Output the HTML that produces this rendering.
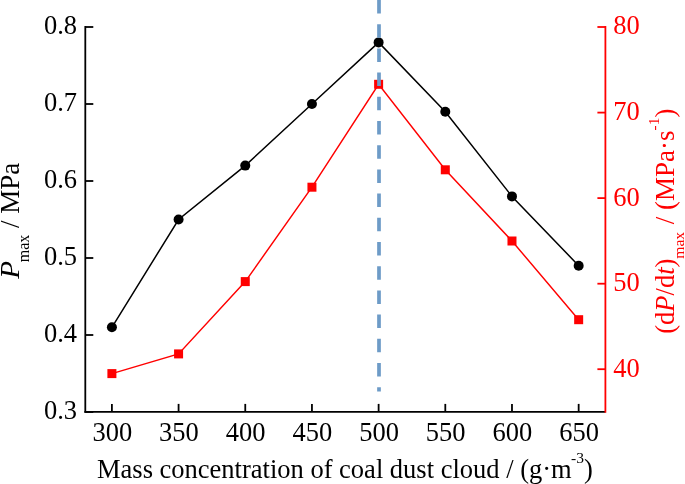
<!DOCTYPE html><html><head><meta charset="utf-8"><style>html,body{margin:0;padding:0;background:#fff;width:685px;height:484px;overflow:hidden}svg{display:block;will-change:transform}svg text{font-family:"Liberation Serif",serif}</style></head><body><svg width="685" height="484" viewBox="0 0 685 484"><g stroke="#000" stroke-width="1.80" fill="none"><line x1="85.30" y1="26.10" x2="85.30" y2="412.80"/><line x1="84.40" y1="411.90" x2="605.40" y2="411.90"/><line x1="85.30" y1="412.00" x2="93.30" y2="412.00"/><line x1="85.30" y1="335.00" x2="93.30" y2="335.00"/><line x1="85.30" y1="258.00" x2="93.30" y2="258.00"/><line x1="85.30" y1="181.00" x2="93.30" y2="181.00"/><line x1="85.30" y1="104.00" x2="93.30" y2="104.00"/><line x1="85.30" y1="27.00" x2="93.30" y2="27.00"/><line x1="111.90" y1="411.90" x2="111.90" y2="403.90"/><line x1="178.58" y1="411.90" x2="178.58" y2="403.90"/><line x1="245.26" y1="411.90" x2="245.26" y2="403.90"/><line x1="311.94" y1="411.90" x2="311.94" y2="403.90"/><line x1="378.62" y1="411.90" x2="378.62" y2="403.90"/><line x1="445.30" y1="411.90" x2="445.30" y2="403.90"/><line x1="511.98" y1="411.90" x2="511.98" y2="403.90"/><line x1="578.66" y1="411.90" x2="578.66" y2="403.90"/></g><g stroke="#f00" stroke-width="1.80" fill="none"><line x1="605.40" y1="26.10" x2="605.40" y2="412.80"/><line x1="597.40" y1="369.20" x2="605.40" y2="369.20"/><line x1="597.40" y1="283.70" x2="605.40" y2="283.70"/><line x1="597.40" y1="198.10" x2="605.40" y2="198.10"/><line x1="597.40" y1="112.60" x2="605.40" y2="112.60"/><line x1="597.40" y1="27.00" x2="605.40" y2="27.00"/></g><text transform="translate(77.00,419.30) scale(1,1.070)" font-size="26.50" text-anchor="end" fill="#000">0.3</text><text transform="translate(77.00,342.30) scale(1,1.070)" font-size="26.50" text-anchor="end" fill="#000">0.4</text><text transform="translate(77.00,265.30) scale(1,1.070)" font-size="26.50" text-anchor="end" fill="#000">0.5</text><text transform="translate(77.00,188.30) scale(1,1.070)" font-size="26.50" text-anchor="end" fill="#000">0.6</text><text transform="translate(77.00,111.30) scale(1,1.070)" font-size="26.50" text-anchor="end" fill="#000">0.7</text><text transform="translate(77.00,34.30) scale(1,1.070)" font-size="26.50" text-anchor="end" fill="#000">0.8</text><text transform="translate(112.30,440.60) scale(1,1.070)" font-size="26.50" text-anchor="middle" fill="#000">300</text><text transform="translate(178.98,440.60) scale(1,1.070)" font-size="26.50" text-anchor="middle" fill="#000">350</text><text transform="translate(245.66,440.60) scale(1,1.070)" font-size="26.50" text-anchor="middle" fill="#000">400</text><text transform="translate(312.34,440.60) scale(1,1.070)" font-size="26.50" text-anchor="middle" fill="#000">450</text><text transform="translate(379.02,440.60) scale(1,1.070)" font-size="26.50" text-anchor="middle" fill="#000">500</text><text transform="translate(445.70,440.60) scale(1,1.070)" font-size="26.50" text-anchor="middle" fill="#000">550</text><text transform="translate(512.38,440.60) scale(1,1.070)" font-size="26.50" text-anchor="middle" fill="#000">600</text><text transform="translate(579.06,440.60) scale(1,1.070)" font-size="26.50" text-anchor="middle" fill="#000">650</text><text transform="translate(613.20,376.60) scale(1,1.070)" font-size="26.50" text-anchor="start" fill="#f00">40</text><text transform="translate(613.20,291.10) scale(1,1.070)" font-size="26.50" text-anchor="start" fill="#f00">50</text><text transform="translate(613.20,205.50) scale(1,1.070)" font-size="26.50" text-anchor="start" fill="#f00">60</text><text transform="translate(613.20,120.00) scale(1,1.070)" font-size="26.50" text-anchor="start" fill="#f00">70</text><text transform="translate(613.20,34.40) scale(1,1.070)" font-size="26.50" text-anchor="start" fill="#f00">80</text><polyline points="111.90,327.30 178.58,219.50 245.26,165.60 311.94,104.00 378.62,42.40 445.30,111.70 511.98,196.40 578.66,265.70" fill="none" stroke="#000" stroke-width="1.5"/><polyline points="111.90,373.60 178.58,353.90 245.26,281.60 311.94,187.20 378.62,84.30 445.30,169.80 511.98,241.00 578.66,319.70" fill="none" stroke="#f00" stroke-width="1.45"/><circle cx="111.90" cy="327.30" r="5" fill="#000"/><circle cx="178.58" cy="219.50" r="5" fill="#000"/><circle cx="245.26" cy="165.60" r="5" fill="#000"/><circle cx="311.94" cy="104.00" r="5" fill="#000"/><circle cx="378.62" cy="42.40" r="5" fill="#000"/><circle cx="445.30" cy="111.70" r="5" fill="#000"/><circle cx="511.98" cy="196.40" r="5" fill="#000"/><circle cx="578.66" cy="265.70" r="5" fill="#000"/><rect x="107.40" y="369.10" width="9" height="9" fill="#f00"/><rect x="174.08" y="349.40" width="9" height="9" fill="#f00"/><rect x="240.76" y="277.10" width="9" height="9" fill="#f00"/><rect x="307.44" y="182.70" width="9" height="9" fill="#f00"/><rect x="374.12" y="79.80" width="9" height="9" fill="#f00"/><rect x="440.80" y="165.30" width="9" height="9" fill="#f00"/><rect x="507.48" y="236.50" width="9" height="9" fill="#f00"/><rect x="574.16" y="315.20" width="9" height="9" fill="#f00"/><line x1="379" y1="0" x2="379" y2="391.5" stroke="#6d9bc7" stroke-width="3.7" stroke-dasharray="13.5 10.7"/><text font-size="26.5" x="97" y="477.8" fill="#000">Mass concentration of coal dust cloud / (g·m<tspan font-size="15.5" dy="-14.6" dx="-0.7">-3</tspan><tspan dy="14.6">)</tspan></text><text font-size="27" font-style="italic" transform="rotate(-90) translate(-278.74,19) scale(1.08,1)" fill="#000">P</text><text font-size="27" transform="rotate(-90)" x="-262.31" y="29" fill="#000"><tspan font-size="16">max</tspan><tspan dy="-10"> / MPa</tspan></text><text font-size="26.5" transform="rotate(-90)" x="-333.76" y="674" fill="#f00">(d<tspan font-style="italic">P</tspan>/d<tspan font-style="italic">t</tspan>)<tspan font-size="15.5" dy="10">max</tspan><tspan dy="-10" dx="1" font-size="27"> / (MPa·s</tspan><tspan font-size="15.5" dy="-14.6">-1</tspan><tspan dy="14.6" font-size="27">)</tspan></text></svg></body></html>
